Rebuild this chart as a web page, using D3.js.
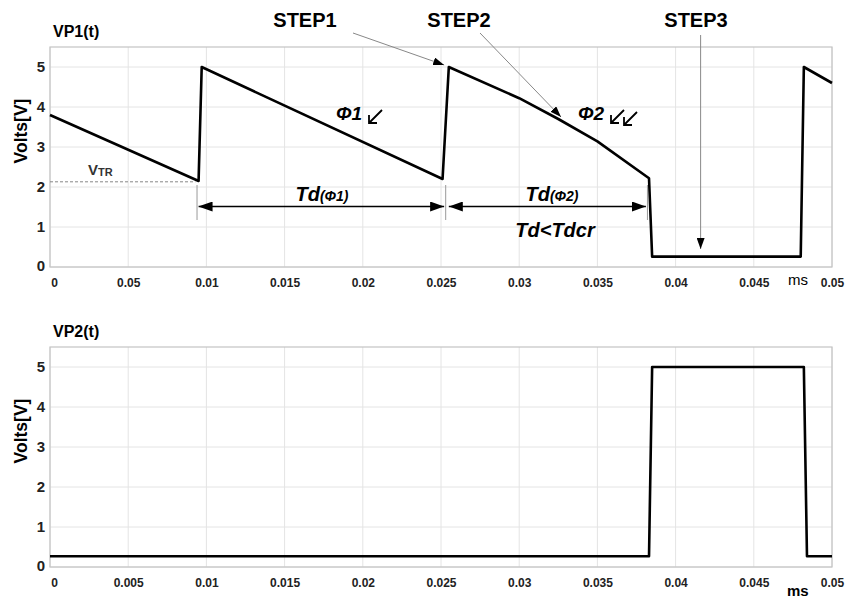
<!DOCTYPE html>
<html>
<head>
<meta charset="utf-8">
<script src="https://cdn.jsdelivr.net/npm/d3@7"></script>
<style>
  body { margin: 0; background: #fff; }
  text { font-family: "Liberation Sans", Arial, sans-serif; }
</style>
</head>
<body>
<div id="chart"></div>
<script>
// tick labels as printed on the original (top panel has "0.05" in 2nd slot)
var xTicks = [0, 0.005, 0.01, 0.015, 0.02, 0.025, 0.03, 0.035, 0.04, 0.045, 0.05];
var xLabelsTop = ["0", "0.05", "0.01", "0.015", "0.02", "0.025", "0.03", "0.035", "0.04", "0.045", "0.05"];
var xLabelsBottom = ["0", "0.005", "0.01", "0.015", "0.02", "0.025", "0.03", "0.035", "0.04", "0.045", "0.05"];
var yTicks = [0, 1, 2, 3, 4, 5];

// VP1(t) waveform (ms, V)
var vp1Time = [0, 0.0095, 0.0097, 0.0251, 0.0255, 0.030, 0.0325, 0.035, 0.0383, 0.0385, 0.0480, 0.0482, 0.050];
var vp1Volt = [3.8, 2.15, 5.0, 2.2, 5.0, 4.22, 3.7, 3.14, 2.22, 0.26, 0.26, 5.0, 4.6];

// VP2(t) waveform (ms, V)
var vp2Time = [0, 0.0383, 0.0385, 0.0482, 0.0484, 0.050];
var vp2Volt = [0.27, 0.27, 5.0, 5.0, 0.27, 0.27];

var vtr = 2.13;

var W = 847, H = 599;
var svg = d3.select("#chart").append("svg")
  .attr("width", W)
  .attr("height", H);

svg.append("rect").attr("width", W).attr("height", H).attr("fill", "#fff");

var defs = svg.append("defs");
// filled heads for the Td arrows
defs.append("marker")
  .attr("id", "tdHead")
  .attr("viewBox", "0 0 14 10")
  .attr("refX", 14).attr("refY", 5)
  .attr("markerWidth", 14).attr("markerHeight", 10)
  .attr("markerUnits", "userSpaceOnUse")
  .attr("orient", "auto-start-reverse")
  .append("path").attr("d", "M0,0 L14,5 L0,10 Z").attr("fill", "#000");
// small heads for the STEP pointers
defs.append("marker")
  .attr("id", "stepHead")
  .attr("viewBox", "0 0 11 8")
  .attr("refX", 11).attr("refY", 4)
  .attr("markerWidth", 11).attr("markerHeight", 8)
  .attr("markerUnits", "userSpaceOnUse")
  .attr("orient", "auto")
  .append("path").attr("d", "M0,0 L11,4 L0,8 Z").attr("fill", "#000");

var x = d3.scaleLinear().domain([0, 0.05]).range([50, 832]);

function panel(top, bottom, labels, title, time, volt) {
  var y = d3.scaleLinear().domain([0, 5.5]).range([bottom, top]);
  var g = svg.append("g");

  // grid
  g.selectAll(".vgrid").data(xTicks).enter().append("line")
    .attr("x1", function(d) { return x(d); }).attr("x2", function(d) { return x(d); })
    .attr("y1", top).attr("y2", bottom)
    .attr("stroke", "#e4e4e4").attr("stroke-width", 1);
  g.selectAll(".hgrid").data(yTicks).enter().append("line")
    .attr("x1", x(0)).attr("x2", x(0.05))
    .attr("y1", function(d) { return y(d); }).attr("y2", function(d) { return y(d); })
    .attr("stroke", "#e4e4e4").attr("stroke-width", 1);

  // frame
  g.append("rect")
    .attr("x", x(0)).attr("y", top)
    .attr("width", x(0.05) - x(0)).attr("height", bottom - top)
    .attr("fill", "none").attr("stroke", "#c4c4c4").attr("stroke-width", 1.2);

  // x axis
  var xa = g.append("g")
    .attr("transform", "translate(0," + bottom + ")")
    .call(d3.axisBottom(x).tickValues(xTicks).tickSize(0).tickPadding(11)
      .tickFormat(function(d, i) { return labels[i]; }));
  xa.select(".domain").remove();
  xa.selectAll("text")
    .style("font-size", "12px").style("font-weight", "bold").attr("fill", "#222");
  xa.selectAll(".tick").filter(function(d) { return d === 0; }).select("text").attr("dx", 4);

  // y axis
  var ya = g.append("g")
    .attr("transform", "translate(" + x(0) + ",0)")
    .call(d3.axisLeft(y).tickValues(yTicks).tickSize(0).tickPadding(5).tickFormat(d3.format("d")));
  ya.select(".domain").remove();
  ya.selectAll("text")
    .style("font-size", "15px").style("font-weight", "bold").attr("fill", "#222");
  ya.selectAll(".tick").filter(function(d) { return d === 0; }).select("text").attr("dy", "0.2em");

  // labels
  g.append("text")
    .attr("x", 53).attr("y", top - 10)
    .style("font-size", "16px").style("font-weight", "bold")
    .text(title);
  g.append("text")
    .attr("transform", "translate(27," + ((top + bottom) / 2 - 26) + ") rotate(-90)")
    .attr("text-anchor", "middle")
    .style("font-size", "17.5px").style("font-weight", "bold")
    .text("Volts[V]");

  // waveform
  var line = d3.line()
    .x(function(d, i) { return x(time[i]); })
    .y(function(d) { return y(d); });
  g.append("path")
    .datum(volt)
    .attr("d", line)
    .attr("fill", "none")
    .attr("stroke", "#000")
    .attr("stroke-width", 2.6)
    .attr("stroke-linejoin", "round");

  return y;
}

var y1 = panel(47, 267, xLabelsTop, "VP1(t)", vp1Time, vp1Volt);
var y2 = panel(347, 567, xLabelsBottom, "VP2(t)", vp2Time, vp2Volt);

// "ms" unit labels
svg.append("text").attr("x", 788).attr("y", 285)
  .style("font-size", "15px").text("ms");
svg.append("text").attr("x", 787).attr("y", 596)
  .style("font-size", "15px").style("font-weight", "bold").text("ms");

// V_TR threshold
svg.append("line")
  .attr("x1", x(0)).attr("x2", x(0.0093))
  .attr("y1", y1(vtr)).attr("y2", y1(vtr))
  .attr("stroke", "#888").attr("stroke-width", 1).attr("stroke-dasharray", "3,2");
var vt = svg.append("text").attr("x", 88).attr("y", 175)
  .style("font-size", "15px").style("font-weight", "bold").attr("fill", "#333");
vt.append("tspan").text("V");
vt.append("tspan").attr("dy", 1).style("font-size", "11px").text("TR");

// Td markers and double arrows
var arrowY = 206.5;
[0.0094, 0.0253, 0.0382].forEach(function(t) {
  svg.append("line")
    .attr("x1", x(t)).attr("x2", x(t))
    .attr("y1", 185).attr("y2", 220)
    .attr("stroke", "#999").attr("stroke-width", 1);
});
svg.append("line")
  .attr("x1", x(0.0095)).attr("x2", x(0.0252))
  .attr("y1", arrowY).attr("y2", arrowY)
  .attr("stroke", "#000").attr("stroke-width", 1.6)
  .attr("marker-start", "url(#tdHead)").attr("marker-end", "url(#tdHead)");
svg.append("line")
  .attr("x1", x(0.0255)).attr("x2", x(0.0381))
  .attr("y1", arrowY).attr("y2", arrowY)
  .attr("stroke", "#000").attr("stroke-width", 1.6)
  .attr("marker-start", "url(#tdHead)").attr("marker-end", "url(#tdHead)");

function tdLabel(cx, sub) {
  var t = svg.append("text")
    .attr("x", cx).attr("y", 201).attr("text-anchor", "middle")
    .style("font-weight", "bold").style("font-style", "italic");
  t.append("tspan").style("font-size", "20px").text("Td");
  t.append("tspan").style("font-size", "14px").text("(" + sub + ")");
}
tdLabel(322, "Φ1");
tdLabel(552, "Φ2");
svg.append("text")
  .attr("x", 555).attr("y", 237).attr("text-anchor", "middle")
  .style("font-size", "20px").style("font-weight", "bold").style("font-style", "italic")
  .text("Td<Tdcr");

// Φ slope labels with small "↙" arrows
function phiLabel(px, py, label, n) {
  svg.append("text")
    .attr("x", px).attr("y", py)
    .style("font-size", "19px").style("font-weight", "bold").style("font-style", "italic")
    .text(label);
  for (var i = 0; i < n; i++) {
    var ax = px + 46 + i * 13, ay = py - 10 + i * 2;
    svg.append("path")
      .attr("d", "M" + ax + "," + ay + " L" + (ax - 13) + "," + (ay + 13) +
        " M" + (ax - 13) + "," + (ay + 5) + " L" + (ax - 13) + "," + (ay + 13) + " L" + (ax - 5) + "," + (ay + 13))
      .attr("fill", "none").attr("stroke", "#000").attr("stroke-width", 1.8);
  }
}
phiLabel(336, 120, "Φ1", 1);
phiLabel(578, 120, "Φ2", 2);

// STEP call-outs
function step(label, tx, px1, py1, px2, py2) {
  svg.append("text")
    .attr("x", tx).attr("y", 27).attr("text-anchor", "middle")
    .style("font-size", "20px").style("font-weight", "bold")
    .text(label);
  svg.append("line")
    .attr("x1", px1).attr("y1", py1).attr("x2", px2).attr("y2", py2)
    .attr("stroke", "#888").attr("stroke-width", 1)
    .attr("marker-end", "url(#stepHead)");
}
step("STEP1", 305, 353, 33, x(0.0252), y1(5.05));
step("STEP2", 459, 480, 33, 561, 117);
step("STEP3", 696, x(0.0416), 35, x(0.0416), y1(0.45));
</script>
</body>
</html>
